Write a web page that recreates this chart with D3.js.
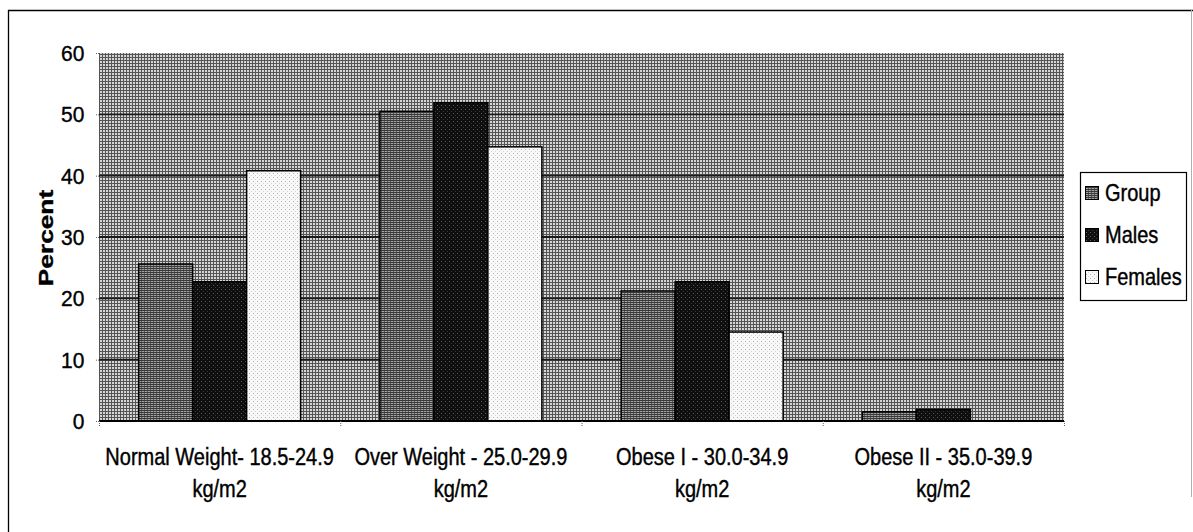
<!DOCTYPE html>
<html>
<head>
<meta charset="utf-8">
<script src="https://cdn.jsdelivr.net/npm/d3@7"></script>
<style>
  html, body { margin: 0; padding: 0; background: #fff; }
  svg { display: block; }
  text { font-family: "Liberation Sans", Arial, sans-serif; fill: #000; stroke: #000; stroke-width: 0.35px; }
</style>
</head>
<body>
<svg id="chart" width="1193" height="532"></svg>
<script>
// BMI categories (two lines each) and percentages per series
const categories = ["Normal Weight", "Over Weight", "Obese I", "Obese II"];
const categoryLine1 = ["Normal Weight- 18.5-24.9", "Over Weight - 25.0-29.9", "Obese I - 30.0-34.9", "Obese II - 35.0-39.9"];
const categoryLine2 = ["kg/m2", "kg/m2", "kg/m2", "kg/m2"];
const seriesNames = ["Group", "Males", "Females"];
const groupValues = [25.6, 50.5, 21.2, 1.5];
const maleValues = [22.7, 51.9, 22.7, 1.9];
const femaleValues = [40.8, 44.7, 14.5, 0];
const yTicks = [0, 10, 20, 30, 40, 50, 60];
const yLabel = "Percent";

const seriesValues = [groupValues, maleValues, femaleValues];

const svg = d3.select("#chart");
const plot = { left: 99, right: 1064, top: 53, bottom: 421 };

// ---- textures used for the plot area and the bars ----
const defs = svg.append("defs");
function pattern(id, w, h, base, dots) {
  const p = defs.append("pattern").attr("id", id).attr("patternUnits", "userSpaceOnUse")
    .attr("width", w).attr("height", h);
  p.append("rect").attr("width", w).attr("height", h).attr("fill", base);
  dots.forEach(([x, y, ww, hh, c]) =>
    p.append("rect").attr("x", x).attr("y", y).attr("width", ww).attr("height", hh)
      .attr("fill", c).attr("shape-rendering", "crispEdges"));
}
pattern("bgTex", 3, 3, "#d6d6d6", [[0, 0, 3, 1, "#555555"], [0, 0, 1, 3, "#555555"]]);
pattern("groupTex", 3, 2, "#a3a3a3", [[0, 0, 3, 1, "#383838"], [0, 1, 1, 1, "#5a5a5a"]]);
pattern("maleTex", 4, 4, "#0e0e0e", [[1, 1, 1, 1, "#5e5e5e"], [3, 3, 1, 1, "#3a3a3a"]]);
pattern("femaleTex", 4, 4, "#f8f8f8", [[1, 1, 1, 1, "#b4b4b4"], [3, 3, 1, 1, "#d4d4d4"]]);
const fills = ["url(#groupTex)", "url(#maleTex)", "url(#femaleTex)"];

// ---- outer frame ----
svg.append("line").attr("x1", 8.5).attr("x2", 8.5).attr("y1", 10).attr("y2", 532)
  .attr("stroke", "#000").attr("stroke-width", 1.3);
svg.append("line").attr("x1", 8).attr("x2", 1193).attr("y1", 10.5).attr("y2", 10.5)
  .attr("stroke", "#000").attr("stroke-width", 1.3);
svg.append("line").attr("x1", 1191.5).attr("x2", 1191.5).attr("y1", 10).attr("y2", 497)
  .attr("stroke", "#b0b0b0").attr("stroke-width", 1);

// ---- scales ----
const x = d3.scaleBand().domain(categories).range([plot.left, plot.right]).paddingInner(0).paddingOuter(0);
const xs = d3.scaleBand().domain(seriesNames).range([0, x.bandwidth()]).paddingInner(0).paddingOuter(0.734);
const y = d3.scaleLinear().domain([0, 60]).range([plot.bottom, plot.top]);

// plot area background
svg.append("rect").attr("x", plot.left).attr("y", plot.top)
  .attr("width", plot.right - plot.left).attr("height", plot.bottom - plot.top)
  .attr("fill", "url(#bgTex)");

// horizontal gridlines
svg.append("g").selectAll("line").data(yTicks.filter(t => t > 0 && t < 60)).join("line")
  .attr("x1", plot.left).attr("x2", plot.right)
  .attr("y1", d => y(d)).attr("y2", d => y(d))
  .attr("stroke", "#1a1a1a").attr("stroke-width", 1.8);

// bars
const seriesG = svg.append("g").selectAll("g").data(seriesNames).join("g")
  .attr("fill", (d, i) => fills[i]);
seriesG.selectAll("rect")
  .data((s, i) => categories.map((c, j) => ({ c, s, v: seriesValues[i][j] })).filter(d => d.v > 0))
  .join("rect")
  .attr("x", d => x(d.c) + xs(d.s))
  .attr("width", xs.bandwidth())
  .attr("y", d => y(d.v))
  .attr("height", d => y(0) - y(d.v))
  .attr("stroke", "#000").attr("stroke-width", 1.5);

// y axis: ticks and labels, no axis line
const yAxis = svg.append("g").attr("transform", `translate(${plot.left},0)`)
  .call(d3.axisLeft(y).tickValues(yTicks).tickSize(4).tickPadding(10));
yAxis.select(".domain").remove();
yAxis.selectAll(".tick line").attr("stroke", "#666").attr("stroke-dasharray", "1,1");
yAxis.selectAll(".tick text")
  .attr("font-size", 20).attr("font-family", "Liberation Sans, Arial, sans-serif")
  .attr("dy", "0.34em").attr("transform", "scale(1.05,1.12)");

// x axis: baseline and boundary ticks
const bounds = categories.map(c => x(c)).concat([plot.right]);
const xb = d3.scaleLinear().domain([0, bounds.length - 1]).range([plot.left, plot.right]);
const xAxis = svg.append("g").attr("transform", `translate(0,${plot.bottom})`)
  .call(d3.axisBottom(xb).tickValues(d3.range(bounds.length)).tickSize(6).tickFormat(""));
xAxis.select(".domain").attr("stroke", "#000").attr("stroke-width", 2.2)
  .attr("d", `M${plot.left},0H${plot.right}`);
xAxis.selectAll(".tick line").attr("stroke", "#666").attr("stroke-dasharray", "1,1");

// category labels (two lines, slightly tall type)
const labels = svg.append("g").selectAll("g").data(categories).join("g")
  .attr("transform", d => `translate(${x(d) + x.bandwidth() / 2},0)`);
labels.append("text").attr("text-anchor", "middle").attr("font-size", 20)
  .attr("transform", "translate(0,465) scale(1,1.15)")
  .text((d, i) => categoryLine1[i]);
labels.append("text").attr("text-anchor", "middle").attr("font-size", 20)
  .attr("transform", "translate(0,497) scale(1,1.15)")
  .text((d, i) => categoryLine2[i]);

// y axis title
svg.append("text").attr("text-anchor", "middle").attr("font-weight", "bold")
  .attr("font-size", 21)
  .attr("transform", "translate(53,238) rotate(-90) scale(1.25,1)")
  .text(yLabel);

// legend
const legend = svg.append("g");
legend.append("rect").attr("x", 1080.5).attr("y", 172.5).attr("width", 106).attr("height", 128)
  .attr("fill", "#fff").attr("stroke", "#000").attr("stroke-width", 1.2);
const legY = d3.scalePoint().domain(seriesNames).range([193, 277]);
const li = legend.selectAll("g").data(seriesNames).join("g")
  .attr("transform", d => `translate(1085,${legY(d)})`);
li.append("rect").attr("x", 0.5).attr("y", -6.5).attr("width", 13).attr("height", 13)
  .attr("fill", (d, i) => fills[i]).attr("stroke", "#000").attr("stroke-width", 1);
li.append("text").attr("font-size", 20)
  .attr("transform", "translate(20,7.5) scale(1,1.2)")
  .text(d => d);
</script>
</body>
</html>
